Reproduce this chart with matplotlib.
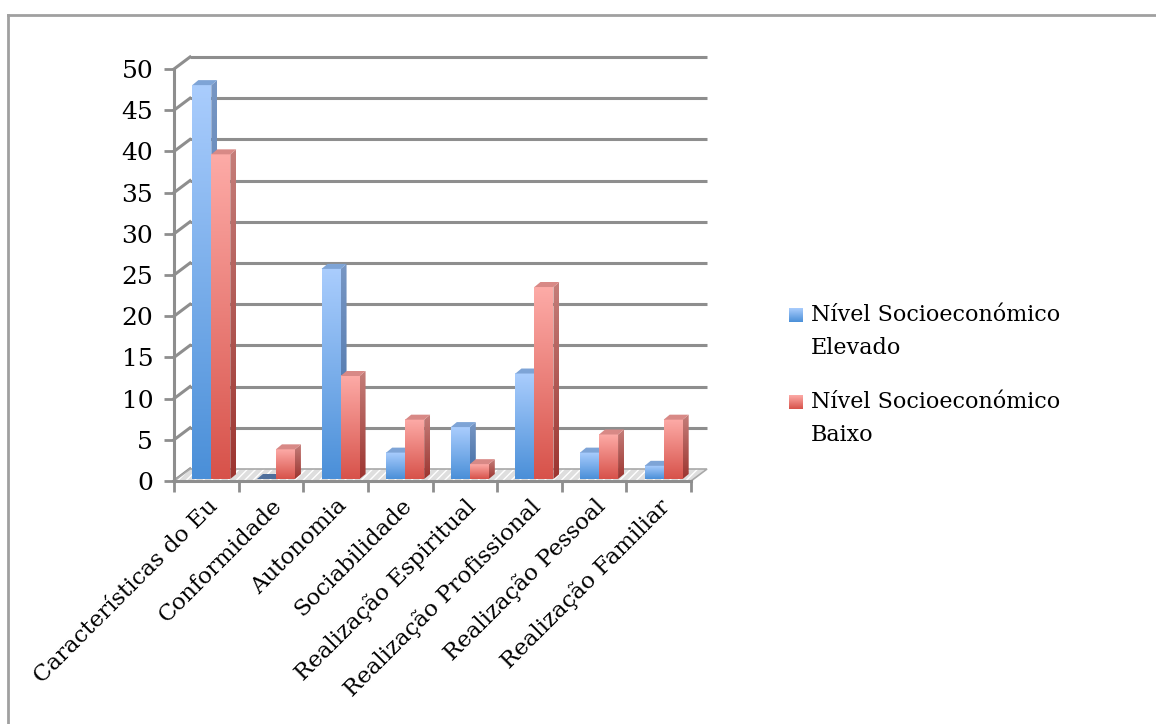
import numpy as np
import matplotlib.pyplot as plt
from matplotlib.patches import Polygon
from matplotlib.lines import Line2D
from matplotlib.colors import LinearSegmentedColormap

categories = ["Características do Eu", "Conformidade", "Autonomia", "Sociabilidade",
              "Realização Espiritual", "Realização Profissional", "Realização Pessoal",
              "Realização Familiar"]
elevado = [47.8, 0.0, 25.5, 3.2, 6.3, 12.8, 3.2, 1.6]
baixo = [39.4, 3.6, 12.5, 7.2, 1.8, 23.3, 5.4, 7.2]
series_labels = ["Nível Socioeconómico\nElevado", "Nível Socioeconómico\nBaixo"]
yticks = list(range(0, 55, 5))

W, H = 1156, 724
plt.rcParams['font.family'] = ['DejaVu Serif']
FS = 16
GRAY = '#8e8e8e'

# colour ramps (bottom -> top) for the front faces, side faces, top faces
front_cm = [LinearSegmentedColormap.from_list('b', ['#4a8fd8', '#aacdfd']),
            LinearSegmentedColormap.from_list('r', ['#d7524a', '#fdaba7'])]
side_cm = [LinearSegmentedColormap.from_list('bs', ['#3f6aa3', '#7897c4']),
           LinearSegmentedColormap.from_list('rs', ['#9c3530', '#c57e7a'])]
top_col = ['#7ea4d6', '#d88986']

fig = plt.figure(figsize=(W / 100, H / 100), dpi=100)
L, R, B, T = 174, 691, 481, 69  # front plane in pixels
ax = fig.add_axes([L / W, 1 - B / H, (R - L) / W, (B - T) / H])
n = len(categories)

# pixel -> data units
px_x = n / (R - L)
px_y = 50 / (B - T)
wall_dx, wall_dy = 16 * px_x, 12 * px_y
bar_dx, bar_dy = 5 * px_x, 2 * px_y
side_dx, side_dy = 6 * px_x, 5 * px_y
bw = 19 * px_x

grad = np.linspace(0, 1, 256).reshape(-1, 1)

# floor
floor = [(0, 0), (n, 0), (n + wall_dx, wall_dy), (wall_dx, wall_dy)]
ax.add_patch(Polygon(floor, facecolor='#dedede', edgecolor='white', hatch='////',
                     lw=0, zorder=1, clip_on=False))
ax.add_patch(Polygon(floor, facecolor='none', edgecolor='#a8a8a8', lw=1.2,
                     zorder=1.1, clip_on=False))

# back wall gridlines and left wall diagonals
for v in yticks:
    if v > 0:
        ax.plot([wall_dx, n + wall_dx], [v + wall_dy, v + wall_dy], color=GRAY,
                lw=2.2, zorder=0.5, clip_on=False, solid_capstyle='butt')
    ax.plot([0, wall_dx], [v, v + wall_dy], color=GRAY, lw=2.2, zorder=0.6,
            clip_on=False)

# bars
for i in range(n):
    for j, val in enumerate([elevado[i], baixo[i]]):
        x0 = i + 0.5 - bw + j * bw + bar_dx
        y0 = bar_dy
        z = 2 + i * 0.1 + j * 0.01
        if val > 0:
            ax.imshow(grad, cmap=front_cm[j], origin='lower', aspect='auto',
                      extent=[x0, x0 + bw, y0, y0 + val], zorder=z,
                      interpolation='bilinear')
            side = Polygon([(x0 + bw, y0), (x0 + bw + side_dx, y0 + side_dy),
                            (x0 + bw + side_dx, y0 + val + side_dy), (x0 + bw, y0 + val)],
                           facecolor='none', edgecolor='none')
            ax.add_patch(side)
            im = ax.imshow(grad, cmap=side_cm[j], origin='lower', aspect='auto',
                           extent=[x0 + bw, x0 + bw + side_dx, y0, y0 + val + side_dy],
                           zorder=z, interpolation='bilinear')
            im.set_clip_path(side)
        top = Polygon([(x0, y0 + val), (x0 + bw, y0 + val),
                       (x0 + bw + side_dx, y0 + val + side_dy), (x0 + side_dx, y0 + val + side_dy)],
                      facecolor=top_col[j] if val > 0 else '#4f6f9c', edgecolor='none',
                      zorder=z)
        ax.add_patch(top)

ax.set_xlim(0, n)
ax.set_ylim(0, 50)

for s in ['top', 'right']:
    ax.spines[s].set_visible(False)
for s in ['left', 'bottom']:
    ax.spines[s].set_color(GRAY)
    ax.spines[s].set_linewidth(2.2)
    ax.spines[s].set_zorder(5)

ax.set_yticks(yticks)
ax.set_yticklabels([str(v) for v in yticks], fontsize=FS + 2)
ax.tick_params(axis='y', length=7, width=2, color=GRAY, pad=8)
ax.set_xticks(range(n + 1))
ax.set_xticklabels([''] * (n + 1))
ax.tick_params(axis='x', which='major', length=8, width=2, color=GRAY)
ax.set_xticks(np.arange(n) + 0.5, minor=True)
ax.set_xticklabels(categories, minor=True, rotation=45, ha='right',
                   rotation_mode='anchor', fontsize=FS + 0.5)
ax.tick_params(axis='x', which='minor', length=0, pad=10)

# legend
leg_top = [308, 395]
for k, lab in enumerate(series_labels):
    lax = fig.add_axes([789 / W, 1 - (leg_top[k] + 14) / H, 14 / W, 14 / H])
    lax.imshow(grad, cmap=front_cm[k], origin='lower', aspect='auto')
    lax.axis('off')
    fig.text(811 / W, 1 - (leg_top[k] - 4) / H, lab, fontsize=FS, va='top',
             ha='left', linespacing=1.65)

# outer frame
fig.add_artist(Line2D([8 / W, 8 / W], [0, 1 - 15 / H], color='#a0a0a0', lw=2))
fig.add_artist(Line2D([8 / W, 1], [1 - 15 / H, 1 - 15 / H], color='#a0a0a0', lw=2))

fig.savefig('out.png', dpi=100)
